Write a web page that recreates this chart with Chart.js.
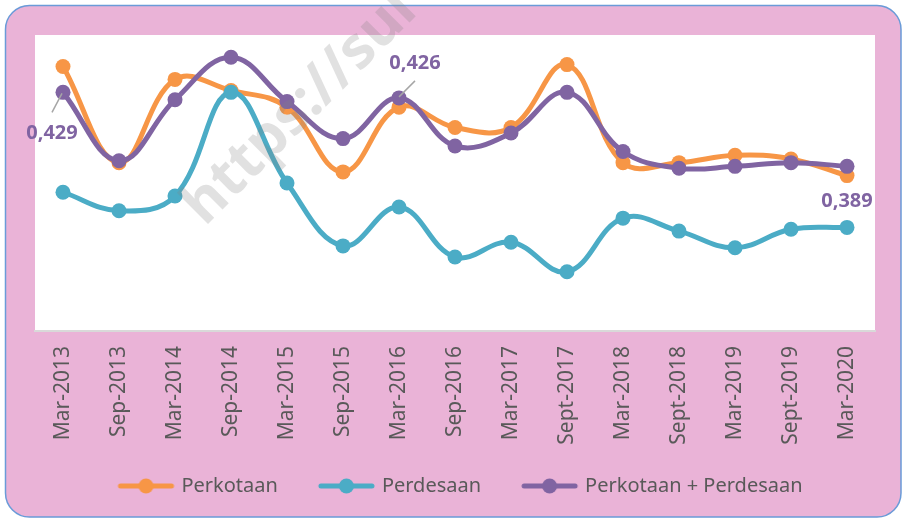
<!DOCTYPE html>
<html>
<head>
<meta charset="utf-8">
<script src="https://cdn.jsdelivr.net/npm/chart.js@4"></script>
<style>
  html, body { margin: 0; padding: 0; background: #fff; }
  canvas { display: block; }
</style>
</head>
<body>
<canvas id="chart" width="903" height="521"></canvas>
<script>
// Gini ratio per period
const periods = ['Mar-2013', 'Sep-2013', 'Mar-2014', 'Sep-2014', 'Mar-2015', 'Sep-2015', 'Mar-2016', 'Sep-2016',
                 'Mar-2017', 'Sept-2017', 'Mar-2018', 'Sept-2018', 'Mar-2019', 'Sept-2019', 'Mar-2020'];
const perkotaan = [0.443, 0.391, 0.436, 0.430, 0.421, 0.386, 0.421, 0.410, 0.410, 0.444, 0.391, 0.391, 0.395, 0.393, 0.384];
const perdesaan = [0.375, 0.365, 0.373, 0.429, 0.380, 0.346, 0.367, 0.340, 0.348, 0.332, 0.361, 0.354, 0.345, 0.355, 0.356];
const gabungan  = [0.429, 0.392, 0.425, 0.448, 0.424, 0.404, 0.426, 0.400, 0.407, 0.429, 0.397, 0.388, 0.389, 0.391, 0.389];
const seriesNames = ['Perkotaan', 'Perdesaan', 'Perkotaan + Perdesaan'];
const labelledIdx = [0, 6, 14];   // points of the combined series that carry a value label
const yMin = 0.30;
const yMax = 0.46;

const ORANGE = '#F79646';
const TEAL = '#4BACC6';
const PURPLE = '#8064A2';
const FONT = '"Noto Sans", "DejaVu Sans", sans-serif';

// legend sample: line with a dot, padded on the left so the gap between items is wider
function legendMark(color) {
    const c = document.createElement('canvas');
    c.width = 72; c.height = 16;
    const g = c.getContext('2d');
    g.strokeStyle = color;
    g.lineWidth = 5;
    g.lineCap = 'round';
    g.beginPath(); g.moveTo(17, 8); g.lineTo(68, 8); g.stroke();
    g.fillStyle = color;
    g.beginPath(); g.arc(42.5, 8, 7.5, 0, Math.PI * 2); g.fill();
    return c;
}
const marks = [legendMark(ORANGE), legendMark(TEAL), legendMark(PURPLE)];

// pink rounded frame + white plot area
const frame = {
    id: 'frame',
    beforeDraw(chart) {
        const ctx = chart.ctx, a = chart.chartArea;
        const x = 5.5, y = 5.5, w = 895.5, h = 511.5, r = 24;
        ctx.save();
        ctx.beginPath();
        ctx.moveTo(x + r, y);
        ctx.arcTo(x + w, y, x + w, y + h, r);
        ctx.arcTo(x + w, y + h, x, y + h, r);
        ctx.arcTo(x, y + h, x, y, r);
        ctx.arcTo(x, y, x + w, y, r);
        ctx.closePath();
        ctx.fillStyle = '#EAB3D7';
        ctx.fill();
        ctx.lineWidth = 1.5;
        ctx.strokeStyle = '#6A9BD8';
        ctx.stroke();
        ctx.fillStyle = '#ffffff';
        ctx.fillRect(a.left, a.top, a.right - a.left, a.bottom - a.top);
        ctx.restore();
    }
};

// value labels on the combined series
const valueLabels = {
    id: 'valueLabels',
    afterDatasetsDraw(chart, args, opts) {
        const ds = opts.dataset;
        const meta = chart.getDatasetMeta(ds);
        const values = chart.data.datasets[ds].data;
        const ctx = chart.ctx;
        ctx.save();
        opts.items.forEach(item => {
            const p = meta.data[item.index];
            if (item.leader) {
                ctx.strokeStyle = '#A6A6A6';
                ctx.lineWidth = 1.5;
                ctx.beginPath();
                ctx.moveTo(p.x + item.leader[0], p.y + item.leader[1]);
                ctx.lineTo(p.x + item.leader[2], p.y + item.leader[3]);
                ctx.stroke();
            }
            ctx.font = 'bold 20px ' + FONT;
            ctx.fillStyle = PURPLE;
            ctx.textAlign = 'center';
            ctx.textBaseline = 'middle';
            ctx.fillText(values[item.index].toFixed(3).replace('.', ','), p.x + item.dx, p.y + item.dy);
        });
        ctx.restore();
    }
};

const watermark = {
    id: 'watermark',
    afterDraw(chart) {
        const ctx = chart.ctx;
        ctx.save();
        ctx.translate(205, 227);
        ctx.rotate(-45 * Math.PI / 180);
        ctx.font = 'bold 58px ' + FONT;
        ctx.fillStyle = 'rgba(128,128,128,0.24)';
        ctx.textBaseline = 'alphabetic';
        ctx.fillText('https://sul', 0, 0);
        ctx.restore();
    }
};

function lineSet(label, data, color, order) {
    return {
        label: label,
        data: data,
        borderColor: color,
        backgroundColor: color,
        borderWidth: 5,
        pointRadius: 7.5,
        pointHoverRadius: 7.5,
        pointBorderWidth: 0,
        pointBackgroundColor: color,
        tension: 0.4,
        fill: false,
        order: order
    };
}

new Chart(document.getElementById('chart'), {
    type: 'line',
    data: {
        labels: periods,
        datasets: [
            lineSet(seriesNames[0], perkotaan, ORANGE, 2),
            lineSet(seriesNames[1], perdesaan, TEAL, 1),
            lineSet(seriesNames[2], gabungan, PURPLE, 0)
        ]
    },
    options: {
        responsive: false,
        animation: false,
        layout: { padding: { left: 35, right: 28, top: 35, bottom: 15 } },
        scales: {
            x: {
                offset: true,
                grid: { display: false, drawTicks: false },
                border: { display: true, color: '#D9D9D9', width: 2 },
                ticks: {
                    minRotation: 90,
                    maxRotation: 90,
                    autoSkip: false,
                    padding: 15,
                    color: '#595959',
                    font: { family: FONT, size: 21 }
                },
                afterFit(scale) { scale.height = 115; }
            },
            y: {
                display: false,
                min: yMin,
                max: yMax
            }
        },
        plugins: {
            tooltip: { enabled: false },
            legend: {
                position: 'bottom',
                labels: {
                    usePointStyle: true,
                    pointStyleWidth: 64,
                    padding: 30,
                    color: '#595959',
                    font: { family: FONT, size: 20 },
                    generateLabels(chart) {
                        const items = Chart.defaults.plugins.legend.labels.generateLabels(chart);
                        items.sort((a, b) => a.datasetIndex - b.datasetIndex);
                        items.forEach(it => { it.pointStyle = marks[it.datasetIndex]; });
                        return items;
                    }
                }
            },
            valueLabels: {
                dataset: 2,
                items: [
                    { index: labelledIdx[0], dx: -11, dy: 41, leader: [-11, 20, -1, 1] },
                    { index: labelledIdx[1], dx: 16, dy: -35, leader: [0, -1, 16, -17] },
                    { index: labelledIdx[2], dx: 0, dy: 35 }
                ]
            }
        }
    },
    plugins: [frame, valueLabels, watermark]
});
</script>
</body>
</html>
